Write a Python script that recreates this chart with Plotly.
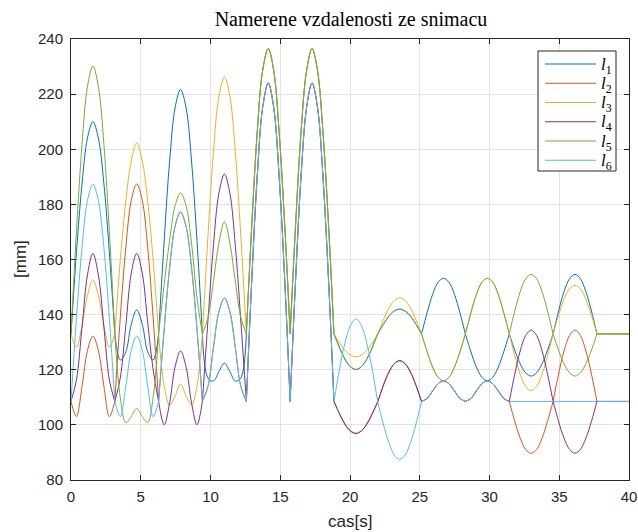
import plotly.graph_objects as go

# sample times (s)
TIME = [0.00, 0.39, 0.79, 1.18, 1.57, 1.96, 2.36, 2.75, 3.14,
        3.53, 3.93, 4.32, 4.71, 5.11, 5.50, 5.89, 6.28,
        6.68, 7.07, 7.46, 7.85, 8.25, 8.64, 9.03, 9.42,
        9.82, 10.21, 10.60, 11.00, 11.39, 11.78, 12.17, 12.57,
        12.96, 13.35, 13.74, 14.14, 14.53, 14.92, 15.32, 15.71,
        16.10, 16.49, 16.89, 17.28, 17.67, 18.06, 18.46, 18.85,
        19.24, 19.63, 20.03, 20.42, 20.81, 21.21, 21.60, 21.99,
        22.38, 22.78, 23.17, 23.56, 23.95, 24.35, 24.74, 25.13,
        25.53, 25.92, 26.31, 26.70, 27.10, 27.49, 27.88, 28.27,
        28.67, 29.06, 29.45, 29.85, 30.24, 30.63, 31.02, 31.42,
        31.81, 32.20, 32.59, 32.99, 33.38, 33.77, 34.16, 34.56,
        34.95, 35.34, 35.74, 36.13, 36.52, 36.91, 37.31, 37.70,
        40.00]

# times where the motion changes (corners)
BREAKS = [3.14, 6.28, 9.42, 12.57, 15.71, 18.85, 25.13, 28.27, 31.42, 34.56, 37.70]

L1 = [133, 162.5, 187.4, 204.1, 210, 204.1, 187.4, 162.5, 133,
      123.5, 126.5, 136.5, 141.7, 136.5, 126.5, 123.5, 133,
      167, 195.7, 215, 221.7, 215, 195.7, 167, 133,
      117, 115.9, 119.3, 122.4, 119.3, 115.9, 117, 133,
      172.6, 206.2, 228.6, 236.5, 228.6, 206.2, 172.6, 133,
      172.6, 206.2, 228.6, 236.5, 228.6, 206.2, 172.6, 133,
      128.1, 123.9, 121.1, 120.1, 121.1, 123.9, 128.1, 133,
      136.4, 139.4, 141.3, 142, 141.3, 139.4, 136.4, 133,
      140.7, 147.3, 151.7, 153.2, 151.7, 147.3, 140.7, 133,
      126.5, 121, 117.3, 116, 117.3, 121, 126.5, 133,
      127.1, 122.2, 118.9, 117.7, 118.9, 122.2, 127.1, 133,
      141.3, 148.3, 153, 154.6, 153, 148.3, 141.3, 133,
      133]

L2 = [108.5, 103, 114, 127, 132.2, 127, 114, 103, 108.5,
      138.7, 164.3, 181.4, 187.4, 181.4, 164.3, 138.7, 108.5,
      134.8, 157.1, 172, 177.2, 172, 157.1, 134.8, 108.5,
      114, 128, 141, 146, 141, 128, 114, 108.5,
      152.7, 190.2, 215.2, 224, 215.2, 190.2, 152.7, 108.5,
      152.7, 190.2, 215.2, 224, 215.2, 190.2, 152.7, 108.5,
      104.1, 100.3, 97.8, 96.9, 97.8, 100.3, 104.1, 108.5,
      114.2, 119, 122.2, 123.3, 122.2, 119, 114.2, 108.5,
      109.6, 112.3, 114.9, 116, 114.9, 112.3, 109.6, 108.5,
      109.6, 112.3, 114.9, 116, 114.9, 112.3, 109.6, 108.5,
      101.3, 95.2, 91.1, 89.7, 91.1, 95.2, 101.3, 108.5,
      118.4, 126.8, 132.4, 134.4, 132.4, 126.8, 118.4, 108.5,
      108.5]

L3 = [133, 128.2, 136, 147, 152.6, 147, 136, 128.2, 133,
      159.6, 181.2, 195.7, 202.3, 195.7, 181.2, 159.6, 133,
      114, 107.2, 110.5, 114.8, 110.5, 107.2, 114, 133,
      168.7, 198.9, 219.1, 226.2, 219.1, 198.9, 168.7, 133,
      172.6, 206.2, 228.6, 236.5, 228.6, 206.2, 172.6, 133,
      172.6, 206.2, 228.6, 236.5, 228.6, 206.2, 172.6, 133,
      129.8, 127.1, 125.3, 124.7, 125.3, 127.1, 129.8, 133,
      138, 142.3, 145.1, 146.1, 145.1, 142.3, 138, 133,
      126.5, 121, 117.3, 116, 117.3, 121, 126.5, 133,
      140.7, 147.3, 151.7, 153.2, 151.7, 147.3, 140.7, 133,
      125.1, 118.4, 114, 112.4, 114, 118.4, 125.1, 133,
      139.8, 145.5, 149.4, 150.7, 149.4, 145.5, 139.8, 133,
      133]

L4 = [108.5, 116.3, 135.4, 154.4, 162.2, 154.4, 135.4, 116.3, 108.5,
      117, 136, 155, 162.2, 155, 137, 120, 108.5,
      100, 108, 121, 126.8, 121, 108, 100, 108.5,
      138, 165, 184, 191, 184, 165, 138, 108.5,
      152.7, 190.2, 215.2, 224, 215.2, 190.2, 152.7, 108.5,
      152.7, 190.2, 215.2, 224, 215.2, 190.2, 152.7, 108.5,
      104.1, 100.3, 97.8, 96.9, 97.8, 100.3, 104.1, 108.5,
      114.2, 119, 122.2, 123.3, 122.2, 119, 114.2, 108.5,
      109.6, 112.3, 114.9, 116, 114.9, 112.3, 109.6, 108.5,
      109.6, 112.3, 114.9, 116, 114.9, 112.3, 109.6, 108.5,
      118.4, 126.8, 132.4, 134.4, 132.4, 126.8, 118.4, 108.5,
      101.3, 95.2, 91.1, 89.7, 91.1, 95.2, 101.3, 108.5,
      108.5]

L5 = [133, 170.2, 201.7, 222.8, 230.2, 222.8, 201.7, 170.2, 133,
      110, 100.8, 103, 106, 103, 100.8, 110, 133,
      151, 167, 179.5, 184.2, 179.5, 166, 146, 133,
      139, 152, 166, 173.7, 166, 152, 139, 133,
      172.6, 206.2, 228.6, 236.5, 228.6, 206.2, 172.6, 133,
      172.6, 206.2, 228.6, 236.5, 228.6, 206.2, 172.6, 133,
      128.1, 123.9, 121.1, 120.1, 121.1, 123.9, 128.1, 133,
      136.4, 139.4, 141.3, 142, 141.3, 139.4, 136.4, 133,
      126.5, 121, 117.3, 116, 117.3, 121, 126.5, 133,
      140.7, 147.3, 151.7, 153.2, 151.7, 147.3, 140.7, 133,
      141.3, 148.3, 153, 154.6, 153, 148.3, 141.3, 133,
      127.1, 122.2, 118.9, 117.7, 118.9, 122.2, 127.1, 133,
      133]

L6 = [108.5, 138.7, 164.3, 181.4, 187.4, 181.4, 164.3, 138.7, 108.5,
      103, 114, 127, 132.2, 127, 114, 103, 108.5,
      134.8, 157.1, 172, 177.2, 172, 157.1, 134.8, 108.5,
      114, 128, 141, 146, 141, 128, 114, 108.5,
      152.7, 190.2, 215.2, 224, 215.2, 190.2, 152.7, 108.5,
      152.7, 190.2, 215.2, 224, 215.2, 190.2, 152.7, 108.5,
      120, 129.6, 136.1, 138.4, 136.1, 129.6, 120, 108.5,
      100.5, 93.7, 89.1, 87.5, 89.1, 93.7, 100.5, 108.5,
      109.6, 112.3, 114.9, 116, 114.9, 112.3, 109.6, 108.5,
      109.6, 112.3, 114.9, 116, 114.9, 112.3, 109.6, 108.5,
      108.5, 108.5, 108.5, 108.5, 108.5, 108.5, 108.5, 108.5,
      108.5, 108.5, 108.5, 108.5, 108.5, 108.5, 108.5, 108.5,
      108.5]

SERIES = [("1", L1), ("2", L2), ("3", L3), ("4", L4), ("5", L5), ("6", L6)]
COLORS = ["#0072BD", "#D95319", "#EDB120", "#7E2F8E", "#77AC30", "#4DBEEE"]

TITLE = "Namerene vzdalenosti ze snimacu"
XLABEL = "cas[s]"
YLABEL = "[mm]"
XTICKS = [0, 5, 10, 15, 20, 25, 30, 35, 40]
YTICKS = [80, 100, 120, 140, 160, 180, 200, 220, 240]

W, H = 638, 532
PL, PR, PT, PB = 71, 629, 39, 480          # plot area in pixels


def px_x(p):
    return (p - PL) / (PR - PL)


def px_y(p):
    return 1 - (p - PT) / (PB - PT)


def split(ts, vs):
    xs, ys = [], []
    for t, v in zip(ts, vs):
        xs.append(t)
        ys.append(v)
        if any(abs(t - b) < 1e-6 for b in BREAKS):
            xs += [None, t]
            ys += [None, v]
    return xs, ys


fig = go.Figure()
for (idx, vals), col in zip(SERIES, COLORS):
    xs, ys = split(TIME, vals)
    fig.add_trace(go.Scatter(
        x=xs, y=ys, mode="lines", connectgaps=False, showlegend=False,
        line=dict(color=col, width=1, shape="spline", smoothing=1),
        name="l%s" % idx,
    ))

AX = "#262626"
GRID = "#e3e3e3"

# legend drawn in pixel layout (box, sample lines, labels)
LEG_BOX = (538, 51, 616, 171)
LEG_LINE_X = (545, 596)
LEG_ROW0, LEG_DY = 64, 19.25
shapes = [dict(type="rect", xref="paper", yref="paper",
               x0=px_x(LEG_BOX[0]), x1=px_x(LEG_BOX[2]),
               y0=px_y(LEG_BOX[3]), y1=px_y(LEG_BOX[1]),
               line=dict(color=AX, width=1), fillcolor="white", layer="above")]
annotations = []
for i, ((idx, _), col) in enumerate(zip(SERIES, COLORS)):
    yy = LEG_ROW0 + i * LEG_DY
    shapes.append(dict(type="line", xref="paper", yref="paper",
                       x0=px_x(LEG_LINE_X[0]), x1=px_x(LEG_LINE_X[1]),
                       y0=px_y(yy), y1=px_y(yy), layer="above",
                       line=dict(color=col, width=1)))
    annotations.append(dict(text="<i>l</i><sub>%s</sub>" % idx, xref="paper", yref="paper",
                            x=px_x(599), y=px_y(yy + 1.5), xanchor="left", yanchor="middle",
                            showarrow=False,
                            font=dict(family="Liberation Serif, serif", size=17, color="#000")))

annotations.append(dict(text=XLABEL, x=px_x(350), y=px_y(521), xref="paper", yref="paper",
                        xanchor="center", yanchor="middle", showarrow=False,
                        font=dict(size=17, color=AX)))
annotations.append(dict(text=YLABEL, textangle=-90, x=px_x(20), y=px_y(259),
                        xref="paper", yref="paper", xanchor="center", yanchor="middle",
                        showarrow=False, font=dict(size=17, color=AX)))

fig.update_layout(
    width=W, height=H,
    margin=dict(l=PL, r=W - PR, t=PT, b=H - PB, autoexpand=False),
    paper_bgcolor="white", plot_bgcolor="white",
    font=dict(family="Liberation Sans, Arial, sans-serif", size=15, color=AX),
    showlegend=False,
    title=dict(text=TITLE, x=px_x(351), xref="paper", xanchor="center",
               y=1 - 19 / H, yref="container", yanchor="middle",
               font=dict(family="Liberation Serif, Times New Roman, serif", size=20, color="#000")),
    xaxis=dict(range=[0, 40], tickvals=XTICKS, ticktext=[str(v) for v in XTICKS],
               ticks="inside", ticklen=5, tickcolor=AX, showline=True, linecolor=AX,
               mirror="ticks", showgrid=True, gridcolor=GRID, zeroline=False,
               automargin=False, ticklabelstandoff=3,
               tickfont=dict(size=15, color=AX)),
    yaxis=dict(range=[80, 240], tickvals=YTICKS, ticktext=[str(v) for v in YTICKS],
               ticks="inside", ticklen=5, tickcolor=AX, showline=True, linecolor=AX,
               mirror="ticks", showgrid=True, gridcolor=GRID, zeroline=False,
               automargin=False, ticklabelstandoff=4,
               tickfont=dict(size=15, color=AX)),
    shapes=shapes,
    annotations=annotations,
)

fig.write_html("out.html")
